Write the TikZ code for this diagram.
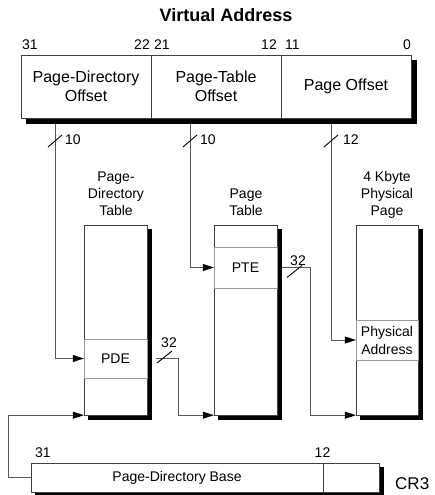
\documentclass[tikz,border=0pt]{standalone}
\usepackage{fontspec}
\setmainfont{Liberation Sans}
\usetikzlibrary{arrows.meta}

\begin{document}
\begin{tikzpicture}[x=1pt, y=-1pt,
        marco/.style={draw=black!75, fill=white, inner sep=0pt},
        sombra/.style={fill=black, draw=black, inner sep=0pt},
        celda/.style={draw=black!75, fill=white, minimum height=63pt, inner sep=0pt, align=center, font=\fontsize{16}{19}\selectfont},
        tabla/.style={marco, minimum width=63pt, minimum height=190pt},
        entrada/.style={draw=black!40, fill=white, minimum width=63pt, inner sep=0pt, align=center, font=\fontsize{14}{18}\selectfont},
        titulo/.style={align=center, inner sep=0pt, anchor=south, font=\fontsize{14}{17}\selectfont},
        bit/.style={inner sep=0pt, font=\fontsize{14}{17}\selectfont},
        barra/.style={black, line width=0.9pt},
        flecha/.style={draw=black!65, -{Triangle[length=11pt,width=7pt,color=black]}}
    ]
    \useasboundingbox (0,0) rectangle (435,495);

    % virtual address
    \node[font=\fontsize{18}{21}\selectfont\bfseries, inner sep=0pt] (titulo) at (226,15) {Virtual Address};
    \node[sombra, minimum width=390pt, minimum height=63pt] (vaS) at (221,91.5) {};
    \node[marco, minimum width=390pt, minimum height=63pt] (va) at (216,86.5) {};
    \node[celda, minimum width=130pt] (pdo) at (86,86.5) {Page-Directory\\Offset};
    \node[celda, minimum width=130pt] (pto) at (216,86.5) {Page-Table\\Offset};
    \node[celda, minimum width=130pt] (po) at (346,86.5) {Page Offset};

    \node[bit, anchor=base west] (b31) at (22,49) {31};
    \node[bit, anchor=base east] (b22) at (150,49) {22};
    \node[bit, anchor=base west] (b21) at (154,49) {21};
    \node[bit, anchor=base east] (b12) at (277,49) {12};
    \node[bit, anchor=base west] (b11) at (285,49) {11};
    \node[bit, anchor=base east] (b0) at (411,49) {0};

    % tables
    \node[titulo] (tpd) at (116,216) {Page-\\Directory\\Table};
    \node[titulo] (tpt) at (246,216) {Page\\Table};
    \node[titulo] (tpg) at (387,219) {4 Kbyte\\Physical\\Page};

    \node[sombra, minimum width=63pt, minimum height=190pt] (pdtS) at (119.5,324) {};
    \node[sombra, minimum width=63pt, minimum height=190pt] (ptS) at (249.5,324) {};
    \node[sombra, minimum width=62pt, minimum height=190pt] (pgS) at (391,324) {};
    \node[tabla] (pdt) at (115.5,320) {};
    \node[tabla] (pt) at (245.5,320) {};
    \node[tabla, minimum width=62pt] (pg) at (387,320) {};

    \node[entrada, minimum height=39pt] (pde) at (115.5,358.5) {PDE};
    \node[entrada, minimum height=41pt] (pte) at (245.5,267.5) {PTE};
    \node[entrada, minimum width=62pt, minimum height=40pt] (pa) at (387,340) {Physical\\Address};

    % CR3
    \node[sombra, minimum width=348pt, minimum height=29pt] (cr3S) at (209,481.5) {};
    \node[marco, minimum width=348pt, minimum height=29pt] (cr3) at (205,477.5) {};
    \node[marco, minimum width=292pt, minimum height=29pt, font=\fontsize{14}{17}\selectfont] (pdb) at (177,477.5) {Page-Directory Base};
    \node[bit, anchor=base west] (c31) at (35,457) {31};
    \node[bit, anchor=base] (c12) at (322.5,457) {12};
    \node[inner sep=0pt, anchor=base west, font=\fontsize{17}{20}\selectfont] (ncr3) at (395,489) {CR3};

    % connectors
    \coordinate (pdoBit) at (55,124);
    \coordinate (ptoBit) at (190,124);
    \coordinate (poBit) at (331,124);

    \draw[flecha] (pdoBit) |- (pde.west);
    \draw[flecha] (ptoBit) |- (pte.west);
    \draw[flecha] (poBit) |- (pa.west);
    \draw[flecha] ([xshift=9pt]pde.east) -- ([xshift=31pt]pde.east) |- (pt.south west);
    \draw[flecha] ([xshift=5pt]pte.east) -- ([xshift=33pt]pte.east) |- (pg.south west);
    \draw[flecha] (cr3.west) -- ++(-23,0) |- (pdt.south west);

    % widths
    \draw[barra] (55,141) +(-7,6) -- +(7,-6);
    \draw[barra] (190,141) +(-7,6) -- +(7,-6);
    \draw[barra] (331,141) +(-7,6) -- +(7,-6);
    \draw[barra] (164.5,357) +(-7.5,6) -- +(7.5,-6);
    \draw[barra] (294.5,271.5) +(-7.5,6) -- +(7.5,-6);
    \node[bit, anchor=west] (w10a) at (65,140) {10};
    \node[bit, anchor=west] (w10b) at (200,140) {10};
    \node[bit, anchor=west] (w12) at (343,140) {12};
    \node[bit] (w32a) at (169,342.5) {32};
    \node[bit] (w32b) at (298,260.5) {32};
\end{tikzpicture}
\end{document}
